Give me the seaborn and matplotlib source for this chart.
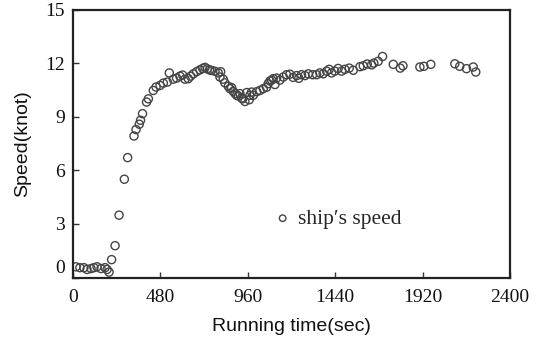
import matplotlib
matplotlib.use("Agg")
import matplotlib.pyplot as plt
import matplotlib.transforms as mtransforms
import seaborn as sns
import pandas as pd

time_sec = [16, 38, 60, 77, 99, 115, 132, 154, 176, 187, 198, 212, 231, 253, 282, 300,
            335, 346, 364, 371, 382, 404, 414, 441, 456, 478, 496, 518, 529, 551, 569, 587,
            602, 615, 633, 646, 661, 679, 697, 712, 725, 737, 750, 761, 780, 798, 807, 811,
            825, 834, 853, 862, 871, 880, 890, 899, 908, 917, 926, 932, 944, 954, 968, 972,
            981, 990, 1009, 1027, 1045, 1063, 1072, 1082, 1091, 1100, 1109, 1118, 1136, 1155,
            1173, 1191, 1209, 1228, 1240, 1255, 1274, 1292, 1316, 1338, 1356, 1374, 1393, 1407,
            1420, 1438, 1456, 1475, 1493, 1517, 1539, 1576, 1594, 1616, 1640, 1652, 1676, 1700,
            1759, 1797, 1812, 1905, 1927, 1965, 2097, 2124, 2161, 2198, 2212]
speed_knot = [0.6, 0.55, 0.55, 0.45, 0.5, 0.55, 0.6, 0.5, 0.55, 0.45, 0.3, 1.0, 1.78, 3.49, 5.5, 6.71,
              7.92, 8.28, 8.58, 8.8, 9.17, 9.82, 10.0, 10.47, 10.66, 10.75, 10.88, 10.94, 11.45, 11.1, 11.16, 11.27,
              11.33, 11.1, 11.13, 11.27, 11.4, 11.52, 11.62, 11.7, 11.76, 11.68, 11.62, 11.59, 11.54, 11.45, 11.22, 11.52,
              11.1, 10.9, 10.7, 10.57, 10.63, 10.42, 10.3, 10.2, 10.16, 10.29, 10.04, 10.0, 9.85, 10.35, 9.95, 10.2,
              10.38, 10.2, 10.4, 10.47, 10.57, 10.65, 10.85, 11.0, 11.05, 11.13, 10.8, 11.16, 11.05, 11.22,
              11.35, 11.38, 11.2, 11.3, 11.15, 11.35, 11.3, 11.4, 11.35, 11.35, 11.45, 11.4, 11.55, 11.65,
              11.45, 11.55, 11.7, 11.55, 11.65, 11.72, 11.6, 11.8, 11.85, 11.95, 11.9, 12.0, 12.1, 12.37,
              11.93, 11.72, 11.85, 11.78, 11.82, 11.93, 11.96, 11.82, 11.69, 11.78, 11.5]

x_ticks = [0, 480, 960, 1440, 1920, 2400]
y_ticks = [0, 3, 6, 9, 12, 15]
series_label = "ship\u2032s speed"

df = pd.DataFrame({"time": time_sec, "speed": speed_knot})

sns.set_theme(style="white")
fig = plt.figure(figsize=(5.42, 3.41), dpi=100)
ax = fig.add_axes([73 / 542, 1 - 277.5 / 341, 437 / 542, 268 / 341])

sns.scatterplot(data=df, x="time", y="speed", ax=ax, marker="o", s=34,
                facecolor="none", edgecolor="#454545", linewidth=1.0, label=series_label)

ax.set_xlim(0, 2400)
ax.set_ylim(0, 15)
ax.set_xticks(x_ticks)
ax.set_yticks(y_ticks)
serif = ["Liberation Serif", "DejaVu Serif"]
sans = ["Liberation Sans", "DejaVu Sans"]
ax.set_xticklabels([str(v) for v in x_ticks], family=serif, fontsize=14, color="#111111")
ax.set_yticklabels([str(v) for v in y_ticks], family=serif, fontsize=14, color="#111111")
ax.tick_params(axis="y", direction="in", length=4, width=1, color="#333333",
               left=True, right=False, pad=6)
ax.tick_params(axis="x", direction="in", length=4, width=1, color="#333333",
               bottom=True, top=False, pad=8)
# raise the "0" y label as in the reference
lbl0 = ax.get_yticklabels()[0]
lbl0.set_transform(lbl0.get_transform() + mtransforms.ScaledTranslation(0, 11 / 100, fig.dpi_scale_trans))

for sp in ax.spines.values():
    sp.set_color("#222222")
    sp.set_linewidth(1.6)

ax.set_xlabel("Running time(sec)", family=sans, fontsize=14, color="#111111", labelpad=9)
ax.set_ylabel("Speed(knot)", family=sans, fontsize=14, color="#111111", labelpad=10)

leg = ax.legend(loc="center left", bbox_to_anchor=(0.46, 0.219), frameon=False,
                handlelength=0.8, handletextpad=0.3, borderaxespad=0, borderpad=0,
                markerscale=0.8, prop={"family": serif, "size": 15.5})

fig.savefig("out.png", dpi=100)
